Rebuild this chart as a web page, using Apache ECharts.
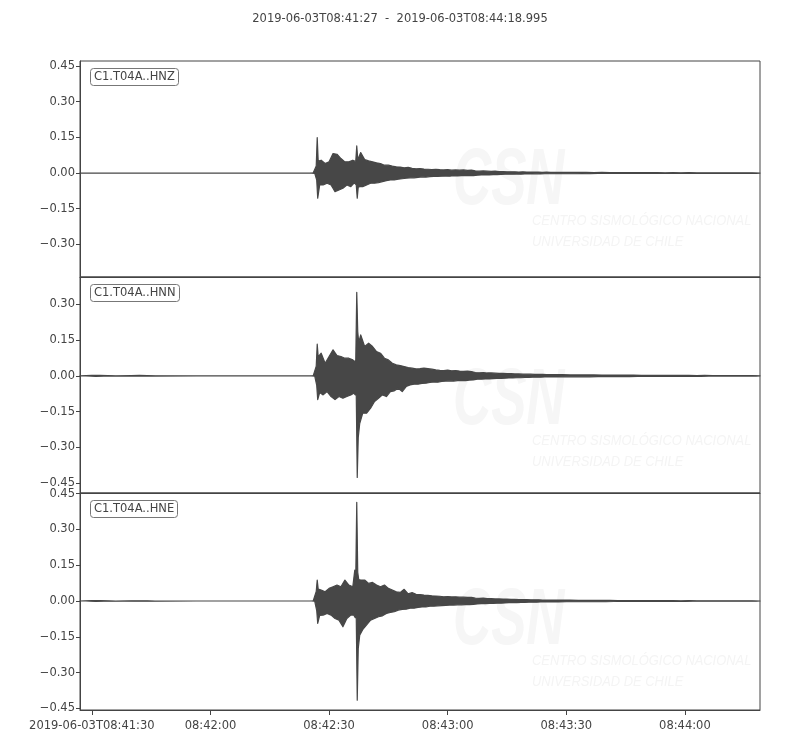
<!DOCTYPE html>
<html><head><meta charset="utf-8">
<script src="https://cdn.jsdelivr.net/npm/echarts@6/dist/echarts.min.js"></script>
<style>html,body{margin:0;padding:0;background:#fff}#c{width:800px;height:750px}</style>
</head><body><div id="c"></div>
<script>
// Time range (seconds after 2019-06-03T08:41:27)
const titleText = '2019-06-03T08:41:27  -  2019-06-03T08:44:18.995';
const xEnd = 171.995;
const xTickSecs = [3, 33, 63, 93, 123, 153];
const xTickLabels = ['2019-06-03T08:41:30', '08:42:00', '08:42:30', '08:43:00', '08:43:30', '08:44:00'];

const channels = ['C1.T04A..HNZ', 'C1.T04A..HNN', 'C1.T04A..HNE'];
const yMinZ = -0.437, yMaxZ = 0.471;
const yMinN = -0.492, yMaxN = 0.415;
const yMinE = -0.457, yMaxE = 0.453;
const yTicksZ = [0.45, 0.30, 0.15, 0, -0.15, -0.30];
const yTicksN = [0.30, 0.15, 0, -0.15, -0.30, -0.45];
const yTicksE = [0.45, 0.30, 0.15, 0, -0.15, -0.30, -0.45];

// bin start times (s); each bin carries the max and min of the trace in it
const seconds = [0,3,5,7,9,13,15,17,19,40,58,59,
  59.75,60,60.25,
  61,62,63,64,65,66,67,68,69,
  69.5,69.75,70,70.25,70.5,
  71,72,73,74,75,76,77,78,79,
  80,81,82,83,84,85,86,87,88,89,
  90,91,92,93,94,95,96,97,98,99,
  100,101,102,103,104,105,106,107,108,109,
  110,111,112,113,114,115,116,117,118,119,
  120,
  122,124,126,128,130,132,134,136,138,140,142,144,146,148,150,152,154,156,158,160,162,164,166,168,170];

const hnzMax = [0,0,0,0,0,0,0,0,0,0,0,0.001,
  0.030,0.149,0.050,
  0.054,0.040,0.047,0.082,0.079,0.061,0.047,0.047,0.054,
  0.050,0.050,0.114,0.060,0.065,
  0.086,0.057,0.051,0.047,0.043,0.040,0.033,0.033,0.029,
  0.026,0.025,0.022,0.024,0.020,0.018,0.019,0.017,0.016,0.015,
  0.016,0.014,0.013,0.014,0.012,0.013,0.012,0.013,0.011,0.012,
  0.009,0.008,0.009,0.008,0.007,0.008,0.006,0.006,0.005,0.005,
  0.005,0.004,0.005,0.004,0.004,0.004,0.004,0.003,0.004,0.003,
  0.003,
  0.003,0.003,0.003,0.003,0.002,0.003,0.002,0.002,0.002,0.002,0.002,0.002,0.002,0.001,0.002,0.001,0.002,0.001,0.001,0.001,0.001,0.001,0.001,0.001,0.001];
const hnzMin = [0,0,0,0,0,0,0,0,0,0,0,-0.001,
  -0.030,-0.106,-0.050,
  -0.050,-0.043,-0.050,-0.078,-0.071,-0.064,-0.050,-0.057,-0.043,
  -0.045,-0.050,-0.106,-0.060,-0.057,
  -0.057,-0.050,-0.043,-0.043,-0.040,-0.036,-0.032,-0.029,-0.029,
  -0.026,-0.024,-0.022,-0.020,-0.020,-0.018,-0.016,-0.017,-0.015,-0.014,
  -0.014,-0.013,-0.012,-0.013,-0.011,-0.012,-0.011,-0.011,-0.010,-0.011,
  -0.009,-0.008,-0.008,-0.008,-0.007,-0.007,-0.006,-0.005,-0.005,-0.005,
  -0.004,-0.005,-0.004,-0.004,-0.004,-0.003,-0.004,-0.003,-0.003,-0.003,
  -0.003,
  -0.003,-0.003,-0.002,-0.003,-0.002,-0.002,-0.002,-0.002,-0.002,-0.002,-0.002,-0.002,-0.001,-0.002,-0.001,-0.001,-0.001,-0.001,-0.001,-0.001,-0.001,-0.001,-0.001,-0.001,-0.001];

const hnnMax = [0,0.002,0.002,0.001,0,0.001,0.002,0.001,0,0,0,0.001,
  0.040,0.133,0.080,
  0.095,0.053,0.081,0.109,0.085,0.081,0.074,0.074,0.067,
  0.060,0.065,0.351,0.186,0.140,
  0.172,0.123,0.137,0.123,0.102,0.095,0.074,0.067,0.053,
  0.046,0.043,0.039,0.035,0.032,0.029,0.030,0.032,0.030,0.028,
  0.025,0.023,0.022,0.024,0.021,0.022,0.020,0.019,0.020,0.018,
  0.014,0.013,0.014,0.012,0.012,0.011,0.010,0.010,0.009,0.009,
  0.008,0.008,0.007,0.007,0.007,0.006,0.006,0.006,0.005,0.005,
  0.005,
  0.005,0.004,0.004,0.004,0.004,0.003,0.003,0.003,0.003,0.003,0.002,0.002,0.002,0.002,0.002,0.002,0.002,0.001,0.002,0.001,0.001,0.001,0.001,0.001,0.001];
const hnnMin = [0,-0.002,-0.001,-0.001,0,-0.001,-0.001,-0.001,0,0,0,-0.001,
  -0.040,-0.100,-0.070,
  -0.080,-0.066,-0.087,-0.100,-0.087,-0.094,-0.087,-0.080,-0.073,
  -0.080,-0.080,-0.427,-0.260,-0.200,
  -0.157,-0.157,-0.136,-0.108,-0.094,-0.080,-0.087,-0.066,-0.063,
  -0.052,-0.066,-0.045,-0.038,-0.035,-0.035,-0.032,-0.031,-0.028,-0.026,
  -0.027,-0.023,-0.022,-0.021,-0.022,-0.020,-0.019,-0.020,-0.018,-0.017,
  -0.014,-0.014,-0.013,-0.013,-0.012,-0.011,-0.011,-0.010,-0.009,-0.009,
  -0.008,-0.008,-0.007,-0.007,-0.006,-0.006,-0.006,-0.005,-0.005,-0.005,
  -0.005,
  -0.004,-0.004,-0.004,-0.004,-0.003,-0.003,-0.003,-0.003,-0.003,-0.002,-0.002,-0.002,-0.002,-0.002,-0.002,-0.002,-0.001,-0.002,-0.001,-0.001,-0.001,-0.001,-0.001,-0.001,-0.001];

const hneMax = [0,0.002,0.002,0.001,0,0.001,0.001,0.001,0,0,0,0.001,
  0.040,0.088,0.050,
  0.046,0.039,0.053,0.060,0.067,0.060,0.088,0.067,0.060,
  0.130,0.100,0.414,0.120,0.090,
  0.088,0.088,0.074,0.078,0.067,0.060,0.067,0.053,0.046,
  0.039,0.036,0.049,0.030,0.035,0.028,0.027,0.025,0.024,0.022,
  0.021,0.020,0.018,0.019,0.017,0.018,0.016,0.016,0.015,0.015,
  0.012,0.011,0.012,0.010,0.010,0.009,0.009,0.008,0.008,0.007,
  0.007,0.006,0.006,0.006,0.005,0.005,0.005,0.004,0.004,0.004,
  0.004,
  0.004,0.004,0.003,0.003,0.003,0.003,0.003,0.002,0.002,0.002,0.002,0.002,0.002,0.002,0.002,0.001,0.002,0.001,0.001,0.001,0.001,0.001,0.001,0.001,0.001];
const hneMin = [0,-0.002,-0.001,-0.001,0,-0.001,-0.001,-0.001,0,0,0,-0.001,
  -0.040,-0.094,-0.060,
  -0.059,-0.052,-0.059,-0.073,-0.080,-0.108,-0.073,-0.059,-0.059,
  -0.070,-0.070,-0.416,-0.200,-0.143,
  -0.120,-0.100,-0.080,-0.073,-0.066,-0.062,-0.052,-0.048,-0.045,
  -0.038,-0.035,-0.034,-0.030,-0.030,-0.027,-0.025,-0.025,-0.022,-0.022,
  -0.020,-0.019,-0.018,-0.017,-0.017,-0.016,-0.016,-0.015,-0.015,-0.014,
  -0.012,-0.011,-0.011,-0.010,-0.010,-0.009,-0.009,-0.008,-0.007,-0.007,
  -0.007,-0.006,-0.006,-0.005,-0.005,-0.005,-0.004,-0.004,-0.004,-0.004,
  -0.004,
  -0.003,-0.003,-0.003,-0.003,-0.003,-0.003,-0.002,-0.002,-0.002,-0.002,-0.002,-0.002,-0.002,-0.002,-0.001,-0.002,-0.001,-0.001,-0.001,-0.001,-0.001,-0.001,-0.001,-0.001,-0.001];

// ---- rendering ----
const FONT = 'DejaVu Sans';
const FS = 11.5;
const TXT = '#444';
const TRACE = '#474747';
const chart = echarts.init(document.getElementById('c'), null, {renderer: 'canvas'});

// min/max decimated trace drawn as the filled band between each bin's max and min
function envelope(sec, hi, lo) {
  const upper = [], lower = [];
  for (let i = 0; i < sec.length; i++) {
    const w = i < sec.length - 1 ? sec[i + 1] - sec[i] : xEnd - sec[i];
    upper.push([sec[i], hi[i]]);
    lower.push([sec[i] + w / 2, lo[i]]);
  }
  upper.push([xEnd, 0]);
  lower.push([xEnd, 0]);
  return upper.concat(lower.reverse());
}

const gridTops = [61, 277, 493];
const gridHeights = [216, 216, 217];
const yMins = [yMinZ, yMinN, yMinE];
const yMaxs = [yMaxZ, yMaxN, yMaxE];
const yTicks = [yTicksZ, yTicksN, yTicksE];
const traces = [[hnzMax, hnzMin], [hnnMax, hnnMin], [hneMax, hneMin]];
const fmtY = v => (v < -1e-9 ? '\u2212' : '') + Math.abs(v).toFixed(2);
const fmtX = v => { const k = xTickSecs.findIndex(s => Math.abs(s - v) < 1e-6); return k >= 0 ? xTickLabels[k] : ''; };

const grids = [], xAxes = [], yAxes = [], series = [], titles = [], graphics = [];
let bad = traces.some(t => t[0].length !== seconds.length || t[1].length !== seconds.length);
titles.push({text: bad ? 'LENGTH MISMATCH' : titleText, left: 'center', top: 13, padding: 0,
  textStyle: {fontSize: FS, fontWeight: 'normal', color: TXT, fontFamily: FONT}});
const wmOffsets = [0, 220, 440];
for (let i = 0; i < 3; i++) {
  const bottom = i === 2;
  grids.push({left: 80, right: 40, top: gridTops[i], height: gridHeights[i], show: true,
    borderColor: '#444', borderWidth: 1, backgroundColor: 'transparent'});
  xAxes.push({type: 'value', gridIndex: i, min: 0, max: xEnd,
    axisLine: {show: true, onZero: false, lineStyle: {color: '#444', width: 1}},
    splitLine: {show: false},
    axisTick: {show: bottom, customValues: xTickSecs, length: 5, lineStyle: {color: '#444'}},
    axisLabel: {show: bottom, customValues: xTickSecs, formatter: fmtX, fontSize: FS, color: TXT,
      fontFamily: FONT, margin: 10}});
  yAxes.push({type: 'value', gridIndex: i, min: yMins[i], max: yMaxs[i],
    axisLine: {show: true, onZero: false, lineStyle: {color: '#444', width: 1}},
    splitLine: {show: false},
    axisTick: {show: true, customValues: yTicks[i], length: 4, lineStyle: {color: '#444'}},
    axisLabel: {customValues: yTicks[i], formatter: fmtY, fontSize: FS, color: TXT, fontFamily: FONT, margin: 5}});
  const band = envelope(seconds, traces[i][0], traces[i][1]);
  series.push({type: 'custom', xAxisIndex: i, yAxisIndex: i, data: [[0, 0]], silent: true,
    animation: false, z: 3,
    renderItem: (params, api) => ({
      type: 'polygon',
      shape: {points: band.map(p => api.coord(p))},
      style: {fill: TRACE, stroke: TRACE, lineWidth: 1.2, lineJoin: 'round'}
    })});
  titles.push({text: channels[i], left: 90, top: gridTops[i] + 7, padding: [3, 4],
    borderColor: '#777', borderWidth: 1, borderRadius: 3, backgroundColor: '#fff',
    textStyle: {fontSize: FS, fontWeight: 'normal', color: TXT, fontFamily: FONT}});
  // faint watermark
  const dy = wmOffsets[i];
  graphics.push({type: 'text', left: 453, top: 142 + dy, z: 1, scaleX: 0.66,
    style: {text: 'CSN', fill: '#f6f6f6', font: 'italic bold 80px "Liberation Sans"'}});
  graphics.push({type: 'text', left: 532, top: 213 + dy, z: 1, scaleX: 0.86,
    style: {text: 'CENTRO SISMOLÓGICO NACIONAL', fill: '#f4f4f4', font: 'italic 15px "Liberation Sans"'}});
  graphics.push({type: 'text', left: 532, top: 234 + dy, z: 1, scaleX: 0.86,
    style: {text: 'UNIVERSIDAD DE CHILE', fill: '#f4f4f4', font: 'italic 15px "Liberation Sans"'}});
}

chart.setOption({
  animation: false,
  backgroundColor: '#fff',
  title: titles,
  grid: grids,
  xAxis: xAxes,
  yAxis: yAxes,
  series: series,
  graphic: graphics
});
</script></body></html>
